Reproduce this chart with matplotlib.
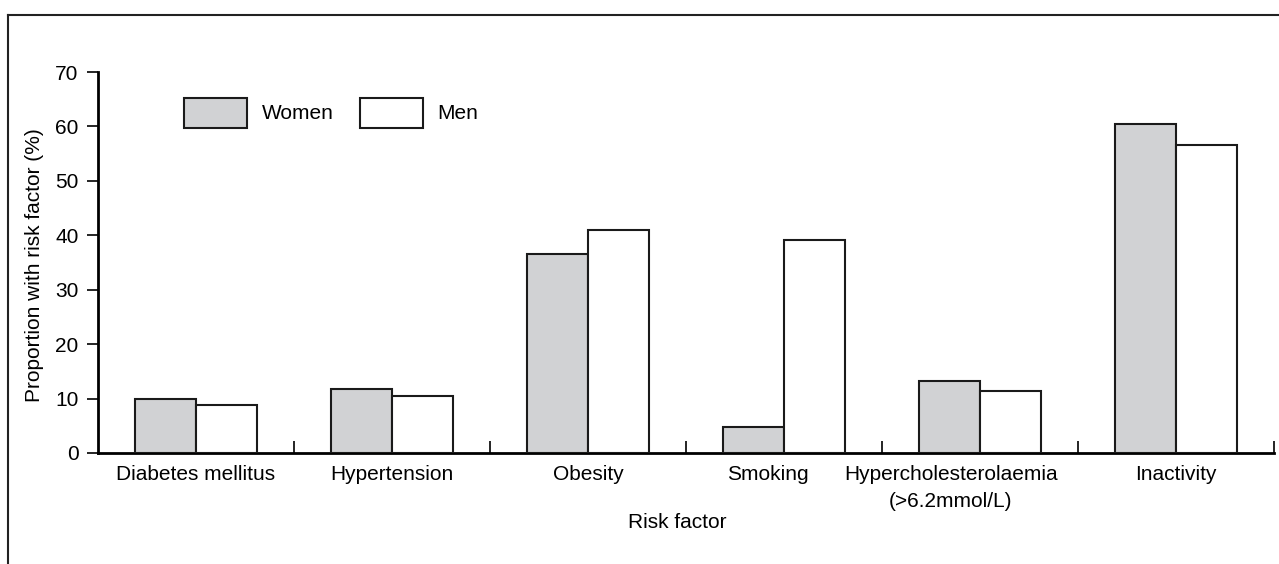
import matplotlib
matplotlib.use("Agg")
import matplotlib.pyplot as plt
import numpy as np
from matplotlib.lines import Line2D

# ---- data ----
categories = ["Diabetes mellitus", "Hypertension", "Obesity", "Smoking",
              "Hypercholesterolaemia\n(>6.2mmol/L)", "Inactivity"]
women = [9.9, 11.7, 36.6, 4.8, 13.3, 60.5]
men = [8.9, 10.4, 41.0, 39.2, 11.4, 56.6]
series_names = ["Women", "Men"]
yticks = [0, 10, 20, 30, 40, 50, 60, 70]
x_label = "Risk factor"
y_label = "Proportion with risk factor (%)"

# small label offsets (in category units) as seen in the reference
label_shift = [0.0, 0.0, 0.0, -0.08, -0.15, 0.0]

plt.rcParams['font.family'] = ['Liberation Sans', 'DejaVu Sans']
FS = 15

W, H = 1279, 564
fig = plt.figure(figsize=(W / 100, H / 100), dpi=100)
ax = fig.add_axes([98 / W, 1 - 453 / H, (1274 - 98) / W, (453 - 72) / H])

x = np.arange(len(categories))
bw = 0.31
women_color = "#d1d2d4"
edge = "#1a1a1a"
ax.bar(x - bw / 2, women, width=bw, color=women_color, edgecolor=edge,
       linewidth=1.5, label=series_names[0], zorder=3)
ax.bar(x + bw / 2, men, width=bw, color="white", edgecolor=edge,
       linewidth=1.5, label=series_names[1], zorder=3)

ax.set_xlim(-0.5, len(categories) - 0.5)
ax.set_ylim(0, 70)

# spines
for s in ["top", "right"]:
    ax.spines[s].set_visible(False)
ax.spines["left"].set_linewidth(2)
ax.spines["bottom"].set_linewidth(2)
ax.spines["left"].set_color("black")
ax.spines["bottom"].set_color("black")

# y ticks
ax.set_yticks(yticks)
ax.set_yticklabels([str(v) for v in yticks], fontsize=FS)
ax.tick_params(axis="y", direction="out", length=8, width=1.2, pad=6, colors="black")

# x ticks: labels at centers (no marks), marks at boundaries pointing inward
ax.set_xticks(x + np.array(label_shift))
ax.set_xticklabels(categories, fontsize=FS, linespacing=1.5)
ax.tick_params(axis="x", which="major", length=0, pad=9)
ax.set_xticks(np.arange(0.5, len(categories), 1.0), minor=True)
ax.tick_params(axis="x", which="minor", direction="in", length=8.5, width=1.2, colors="black")

# axis labels
fig.text(677 / W, 1 - 523 / H, x_label, ha="center", va="center", fontsize=FS)
fig.text(35 / W, 1 - 265 / H, y_label, ha="center", va="center",
         rotation=90, fontsize=FS)

# legend
leg = ax.legend(loc="upper left", bbox_to_anchor=(184 / W, 1 - 97.5 / H),
                bbox_transform=fig.transFigure, ncol=2, frameon=False,
                fontsize=FS, handlelength=3.0, handleheight=1.88,
                handletextpad=0.72, columnspacing=1.28, borderpad=0,
                borderaxespad=0)

# outer frame (top and left edges, as cropped in the reference)
fig.add_artist(Line2D([8 / W, 1.0], [1 - 14.5 / H, 1 - 14.5 / H],
                      transform=fig.transFigure, color="#222222", linewidth=1.5))
fig.add_artist(Line2D([8 / W, 8 / W], [0, 1 - 14.5 / H],
                      transform=fig.transFigure, color="#222222", linewidth=1.5))

fig.savefig("out.png", dpi=100)
